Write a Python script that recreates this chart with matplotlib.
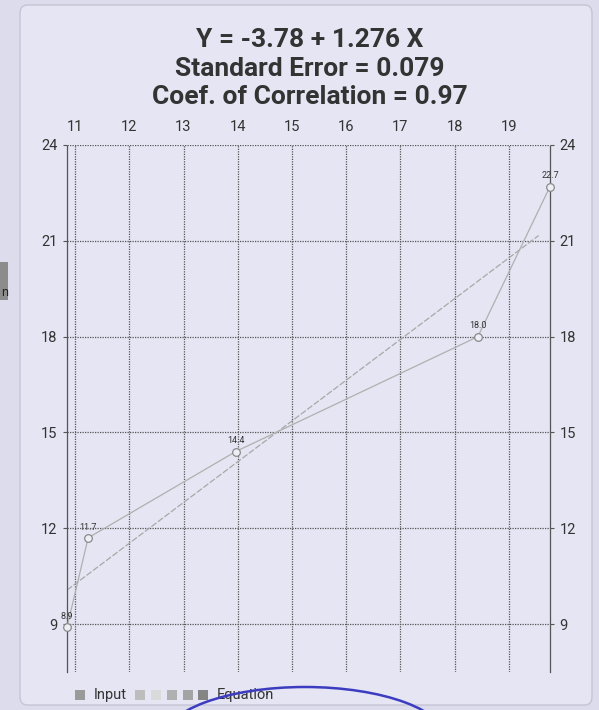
import matplotlib
matplotlib.use("Agg")
import matplotlib.pyplot as plt
from matplotlib.patches import FancyBboxPatch, Arc, Rectangle
import numpy as np

plt.rcParams['font.family'] = ['Roboto', 'DejaVu Sans']

# ---- data ----
input_x = [10.85, 11.24, 13.96, 18.43, 19.76]
input_y = [8.9, 11.7, 14.4, 18.0, 22.7]
point_labels = ["8.9", "11.7", "14.4", "18.0", "22.7"]
eq_intercept = -3.78
eq_slope = 1.276
eq_x = [10.85, 19.55]
x_ticks = [11, 12, 13, 14, 15, 16, 17, 18, 19]
y_ticks = [9, 12, 15, 18, 21, 24]
title_lines = ["Y = -3.78 + 1.276 X", "Standard Error = 0.079", "Coef. of Correlation = 0.97"]
legend_labels = ["Input", "", "", "", "", "Equation"]
legend_colors = ["#9a9a9a", "#bdbdbd", "#dadada", "#b0b0b0", "#a4a4a4", "#858585"]

W, H = 599, 710
fig = plt.figure(figsize=(W / 100, H / 100), dpi=100)
fig.patch.set_facecolor("#dcdcec")

# panel
panel = FancyBboxPatch((20 / W, 1 - 705 / H), 572 / W, 700 / H,
                       boxstyle="round,pad=0,rounding_size=0.012",
                       transform=fig.transFigure, facecolor="#e5e5f3",
                       edgecolor="#c4c4d4", linewidth=1.0, zorder=-10)
fig.patches.append(panel)

# small tab at the far left
fig.patches.append(Rectangle((0, 1 - 300 / H), 8 / W, 38 / H, transform=fig.transFigure,
                             facecolor="#8c8c8c", edgecolor="none", zorder=-5))
fig.text(1 / W, 1 - 293 / H, "n", fontsize=9, color="#222222", va="center", ha="left")

ax = fig.add_axes([67 / W, 1 - 672 / H, 483 / W, 527 / H])
ax.set_facecolor("none")
ax.set_xlim(min(input_x), max(input_x))
ax.set_ylim(7.5, 24)

grid_kw = dict(color="#555555", linestyle=(0, (1, 1)), linewidth=0.9, zorder=1)
for name, s in ax.spines.items():
    if name in ("left", "right"):
        s.set_visible(True)
        s.set_color("#555555")
        s.set_linestyle((0, (1, 1)))
        s.set_linewidth(0.9)
    else:
        s.set_visible(False)

for xv in x_ticks:
    ax.axvline(xv, **grid_kw)
for yv in y_ticks:
    ax.axhline(yv, **grid_kw)

ax.set_xticks(x_ticks)
ax.set_yticks(y_ticks)
ax.xaxis.tick_top()
ax.tick_params(axis="x", length=0, pad=8, labelsize=10.5, labelcolor="#333333")
ax.tick_params(axis="y", length=3, color="#555555", pad=4, labelsize=10.5,
               labelcolor="#333333", left=True, right=True, labelleft=True, labelright=True)

# equation line
ex = np.array(eq_x)
ey = eq_intercept + eq_slope * ex
ax.plot(ex, ey, color="#a8a8a8", linewidth=0.9, linestyle=(0, (5, 1.5)), zorder=2)

# input line
ax.plot(input_x, input_y, color="#b0b0b0", linewidth=0.9, zorder=3,
        marker="o", markersize=5.5, markerfacecolor="#eeeef6",
        markeredgecolor="#8a8a8a", markeredgewidth=0.9, clip_on=False)
for x, y, lab in zip(input_x, input_y, point_labels):
    ax.annotate(lab, (x, y), xytext=(0, 4.5), textcoords="offset points",
                ha="center", va="bottom", fontsize=6.5, color="#333333")

# title
for i, t in enumerate(title_lines):
    fig.text(310 / W, 1 - (40 + 28.5 * i) / H, t, ha="center", va="center",
             fontsize=19, fontweight="bold", color="#333333")

# legend (manual: squares + labels)
sq_left = [75, 135, 151, 167, 183, 198]
yc = 695
for left, col, lab in zip(sq_left, legend_colors, legend_labels):
    fig.patches.append(Rectangle((left / W, 1 - (yc + 5) / H), 10 / W, 10 / H,
                                 transform=fig.transFigure, facecolor=col,
                                 edgecolor="none", zorder=2))
    if lab:
        fig.text((left + 19) / W, 1 - yc / H, lab, ha="left", va="center",
                 fontsize=10.5, color="#333333")

# pen mark
arc = Arc((305 / W, 1 - 740 / H), 284 / W, 106 / H, theta1=0, theta2=180,
          transform=fig.transFigure, color="#3c3cc0", linewidth=1.8, zorder=5)
fig.patches.append(arc)

fig.savefig("out.png", dpi=100, facecolor=fig.get_facecolor())
